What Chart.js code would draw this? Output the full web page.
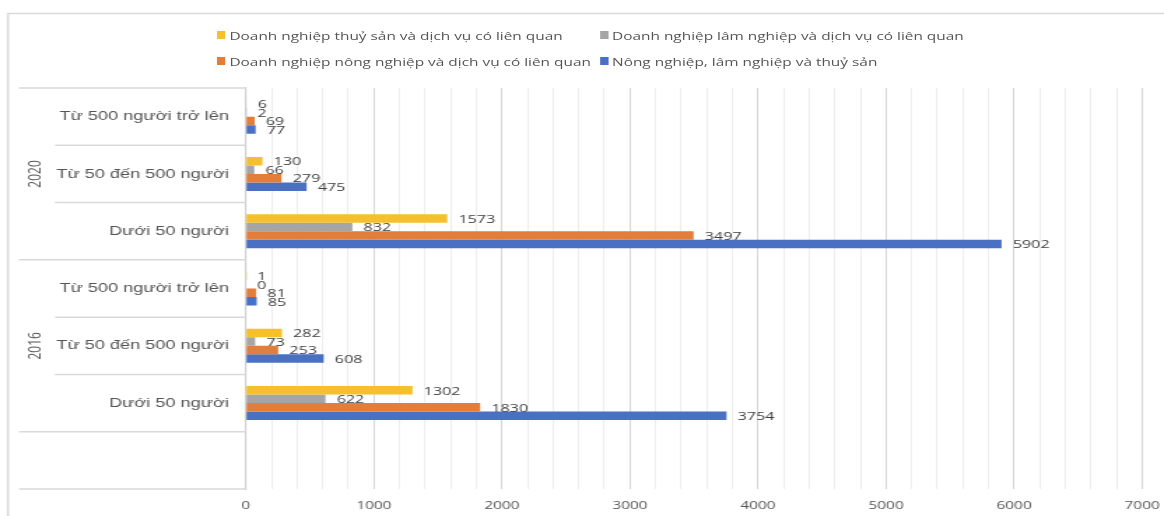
<!DOCTYPE html>
<html>
<head>
<meta charset="utf-8">
<script src="https://cdn.jsdelivr.net/npm/chart.js@4/dist/chart.umd.min.js"></script>
<style>
    html, body { margin: 0; padding: 0; background: #fff; overflow: hidden; }
    /* the source screenshot is stretched sideways, so the whole chart is drawn narrow and scaled */
    #wrap { position: absolute; left: 0; top: 0; width: 832px; height: 516px; transform: scaleX(1.399); transform-origin: 0 0; }
    #box { position: absolute; left: 0; top: 0; width: 832px; height: 516px; }
    .lg { position: absolute; height: 16px; display: flex; align-items: center; font: 11px "Open Sans"; color: #555; white-space: nowrap; }
    .lg i { display: inline-block; width: 6px; height: 8px; margin-right: 3px; }
</style>
</head>
<body>
<div id="wrap">
    <div id="box"><canvas id="chartCanvas"></canvas></div>
    <div id="legend"></div>
</div>
<script>
const years = ["2020", "2016"];
const sizeClasses = ["Từ 500 người trở lên", "Từ 50 đến 500 người", "Dưới 50 người"];
const categories = [...sizeClasses, ...sizeClasses, ""];

// per category, top to bottom (2020 then 2016, last row empty)
const fisheryValues = [6, 130, 1573, 1, 282, 1302, null];
const forestryValues = [2, 66, 832, 0, 73, 622, null];
const agricultureValues = [69, 279, 3497, 81, 253, 1830, null];
const totalValues = [77, 475, 5902, 85, 608, 3754, null];

const seriesNames = [
    "Doanh nghiệp thuỷ sản và dịch vụ có liên quan",
    "Doanh nghiệp lâm nghiệp và dịch vụ có liên quan",
    "Doanh nghiệp nông nghiệp và dịch vụ có liên quan",
    "Nông nghiệp, lâm nghiệp và thuỷ sản"
];
const seriesColors = ["#f6bf2c", "#a5a5a5", "#e27d3a", "#4a70c3"];

const xMax = 7000;
const majorStep = 1000;
const minorStep = 200;

// legend laid out as Excel does it: two columns, two rows
const legendSlots = [[155, 27], [428.5, 27], [155, 53], [428.5, 53]];
const legendEl = document.getElementById("legend");
seriesNames.forEach((name, i) => {
    const item = document.createElement("div");
    item.className = "lg";
    item.style.left = legendSlots[i][0] + "px";
    item.style.top = legendSlots[i][1] + "px";
    item.innerHTML = `<i style="background:${seriesColors[i]}"></i>`;
    item.appendChild(document.createTextNode(name));
    legendEl.appendChild(item);
});

const valueLabels = {
    id: "valueLabels",
    afterDatasetsDraw(chart) {
        const ctx = chart.ctx;
        ctx.save();
        ctx.font = '11.5px "Open Sans"';
        ctx.fillStyle = "#404040";
        ctx.textBaseline = "middle";
        chart.data.datasets.forEach((ds, i) => {
            chart.getDatasetMeta(i).data.forEach((bar, j) => {
                const v = ds.data[j];
                if (v === null) return;
                ctx.fillText(String(v), bar.x + 8, bar.y + 1);
            });
        });
        ctx.restore();
    }
};

const categoryFrame = {
    id: "categoryFrame",
    afterDraw(chart) {
        const { ctx, chartArea, scales: { y } } = chart;
        const n = categories.length;
        const edge = i => i === 0 ? chartArea.top
            : i === n ? chartArea.bottom
            : (y.getPixelForValue(i - 1) + y.getPixelForValue(i)) / 2;

        ctx.save();
        ctx.strokeStyle = "#d9d9d9";
        ctx.lineWidth = 1.5;

        // outer chart border (top and left)
        ctx.beginPath();
        ctx.moveTo(chart.width, 13.5);
        ctx.lineTo(5.7, 13.5);
        ctx.lineTo(5.7, chart.height);
        ctx.stroke();

        for (let i = 0; i <= n; i++) {
            const groupEdge = i % sizeClasses.length === 0 || i === n;
            const yy = edge(i);
            ctx.beginPath();
            ctx.moveTo(groupEdge ? 13.6 : 39.3, yy);
            ctx.lineTo(chartArea.left, yy);
            ctx.stroke();
        }

        ctx.fillStyle = "#555";
        ctx.font = '12px "Open Sans"';
        ctx.textAlign = "center";
        ctx.textBaseline = "middle";
        years.forEach((year, g) => {
            const mid = (edge(g * sizeClasses.length) + edge((g + 1) * sizeClasses.length)) / 2;
            ctx.save();
            ctx.translate(25.5, mid);
            ctx.rotate(-Math.PI / 2);
            ctx.fillText(year, 0, 0);
            ctx.restore();
        });
        ctx.restore();
    }
};

const ctx = document.getElementById("chartCanvas").getContext("2d");
const chart = new Chart(ctx, {
    type: "bar",
    data: {
        labels: categories,
        datasets: [fisheryValues, forestryValues, agricultureValues, totalValues].map((values, i) => ({
            label: seriesNames[i],
            data: values,
            backgroundColor: seriesColors[i],
            borderWidth: 0,
            barPercentage: 1,
            categoryPercentage: 0.593
        }))
    },
    options: {
        indexAxis: "y",
        responsive: true,
        maintainAspectRatio: false,
        animation: false,
        layout: { padding: { top: 88, right: 15.6, left: 0, bottom: 0 } },
        plugins: {
            legend: { display: false },
            tooltip: { enabled: false }
        },
        scales: {
            x: {
                min: 0,
                max: xMax,
                ticks: {
                    stepSize: minorStep,
                    maxTicksLimit: 100,
                    autoSkip: false,
                    maxRotation: 0,
                    padding: 0,
                    color: "#555",
                    font: { family: "Open Sans", size: 11 },
                    callback: v => v % majorStep === 0 ? v : ""
                },
                grid: {
                    drawTicks: true,
                    tickLength: 10,
                    tickColor: "rgba(0,0,0,0)",
                    color: c => c.tick && c.tick.value % majorStep === 0 ? "#d6d6d6" : "#ededed"
                },
                border: { display: false },
                afterFit: s => { s.height = 27; }
            },
            y: {
                ticks: {
                    autoSkip: false,
                    padding: 12,
                    color: "#555",
                    font: { family: "Liberation Sans", size: 13 }
                },
                grid: { display: false, drawTicks: false },
                border: { display: true, color: "#cfcfcf", width: 1.2 },
                afterFit: s => { s.width = 175.7; }
            }
        }
    },
    plugins: [valueLabels, categoryFrame]
});
</script>
</body>
</html>
